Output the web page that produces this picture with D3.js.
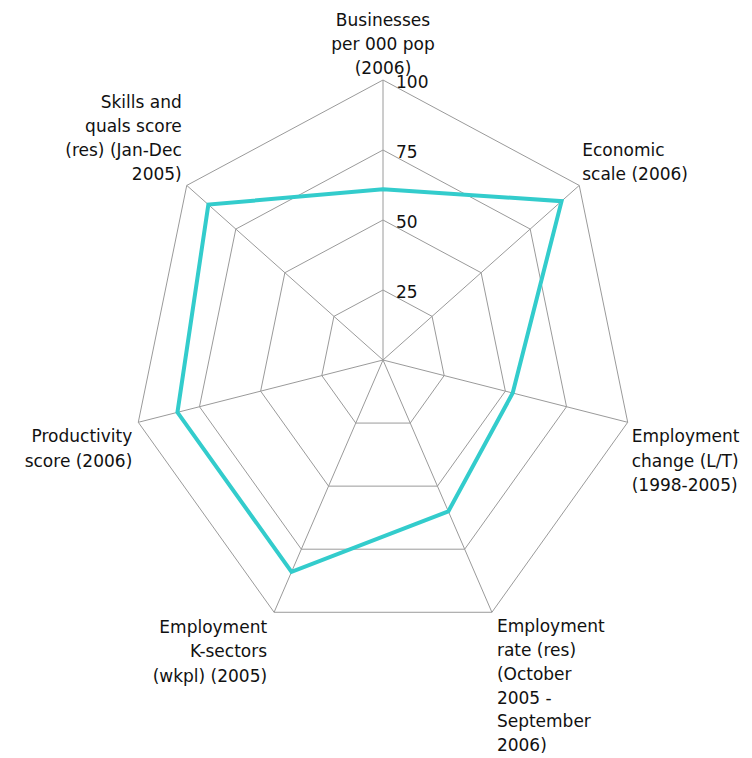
<!DOCTYPE html>
<html>
<head>
<meta charset="utf-8">
<script src="https://cdn.jsdelivr.net/npm/d3@7"></script>
<style>
  html, body { margin: 0; padding: 0; background: #fff; }
  svg text { font-family: "DejaVu Sans", Verdana, sans-serif; font-size: 17px; fill: #111; }
</style>
</head>
<body>
<svg id="chart" width="752" height="758"></svg>
<script>
// ---- data ----
const categories = [
  ["Businesses", "per 000 pop", "(2006)"],
  ["Economic", "scale (2006)"],
  ["Employment", "change (L/T)", "(1998-2005)"],
  ["Employment", "rate (res)", "(October", "2005 -", "September", "2006)"],
  ["Employment", "K-sectors", "(wkpl) (2005)"],
  ["Productivity", "score (2006)"],
  ["Skills and", "quals score", "(res) (Jan-Dec", "2005)"]
];
const values = [61, 91, 53, 60, 84, 84, 89];
const tickValues = [25, 50, 75, 100];
const tickLabels = ["25", "50", "75", "100"];

// ---- layout ----
const cx = 383, cy = 360;
const rx = d3.scaleLinear().domain([0, 100]).range([0, 251]);
const ry = d3.scaleLinear().domain([0, 100]).range([0, 280]);
const n = categories.length;
const angle = d3.scaleLinear().domain([0, n]).range([-Math.PI / 2, 1.5 * Math.PI]);
const pt = (i, v) => [cx + rx(v) * Math.cos(angle(i)), cy + ry(v) * Math.sin(angle(i))];

const svg = d3.select("#chart");
const grid = svg.append("g").attr("stroke", "#9a9a9a").attr("stroke-width", 1).attr("fill", "none");

// rings
tickValues.forEach(t => {
  grid.append("path")
    .attr("d", d3.line()(d3.range(n).map(i => pt(i, t))) + "Z");
});
// spokes
d3.range(n).forEach(i => {
  const [x, y] = pt(i, 100);
  grid.append("line").attr("x1", cx).attr("y1", cy).attr("x2", x).attr("y2", y);
});

// data polygon
svg.append("path")
  .attr("d", d3.line()(values.map((v, i) => pt(i, v))) + "Z")
  .attr("fill", "none")
  .attr("stroke", "#33cccc")
  .attr("stroke-width", 4)
  .attr("stroke-linejoin", "miter");

// tick labels
tickValues.forEach((t, j) => {
  const [x, y] = pt(0, t);
  svg.append("text").attr("x", x + 13).attr("y", y + 8).text(tickLabels[j]);
});

// category labels
const lh = 24.2;
const labelLayout = [
  { anchor: "middle", dx: 0,   first: -6,  fromLast: true },
  { anchor: "start",  dx: 3,   first: -5,  fromLast: true },
  { anchor: "start",  dx: 4,   first: 20,  fromLast: false },
  { anchor: "start",  dx: 5,   first: 20,  fromLast: false },
  { anchor: "end",    dx: -7,  first: 21,  fromLast: false },
  { anchor: "end",    dx: -6,  first: 20,  fromLast: false },
  { anchor: "end",    dx: -5,  first: -5,  fromLast: true }
];
categories.forEach((lines, i) => {
  const [vx, vy] = pt(i, 100);
  const L = labelLayout[i];
  const lineH = lines.length > 4 ? 23.8 : lh;
  const y0 = L.fromLast ? vy + L.first - (lines.length - 1) * lineH : vy + L.first;
  const t = svg.append("text").attr("text-anchor", L.anchor);
  lines.forEach((s, k) => {
    t.append("tspan").attr("x", vx + L.dx).attr("y", y0 + k * lineH).text(s);
  });
});
</script>
</body>
</html>
